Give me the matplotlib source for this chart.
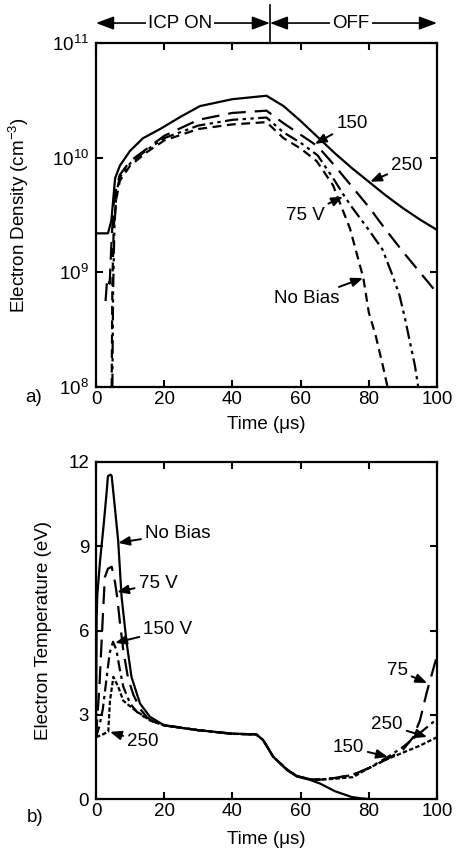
import matplotlib
matplotlib.use('Agg')
import matplotlib.pyplot as plt
import matplotlib.transforms as mtransforms
from matplotlib.ticker import LogLocator, NullLocator, FixedLocator
import numpy as np

plt.rcParams['font.family'] = ['Liberation Sans', 'DejaVu Sans']
plt.rcParams['mathtext.fontset'] = 'custom'
plt.rcParams['mathtext.rm'] = 'Liberation Sans'
plt.rcParams['mathtext.it'] = 'Liberation Sans:italic'
plt.rcParams['font.size'] = 13.5

# ---- a) electron density, log10(n) vs time (us) ----
dens_t_250 = [0, 3.5, 4.5, 5.6, 7, 10, 13.8, 18.8, 25, 30.5, 40, 50, 55, 60, 65, 70,
              75, 80, 85, 90, 95, 100]
dens_log_250 = [9.34, 9.34, 9.45, 9.82, 9.93, 10.06, 10.17, 10.25, 10.36, 10.45, 10.51,
                10.54, 10.45, 10.32, 10.18, 10.04, 9.91, 9.79, 9.67, 9.56, 9.46, 9.37]

dens_t_150 = [2.8, 3.3, 4.0, 4.6, 5.2, 6, 7, 10, 15, 20, 30, 40, 50, 55, 60, 65, 70,
              75, 80, 85, 90, 95, 100]
dens_log_150 = [8.75, 8.95, 8.9, 9.3, 9.6, 9.75, 9.85, 9.97, 10.08, 10.19, 10.33, 10.39,
                10.41, 10.30, 10.20, 10.10, 9.93, 9.75, 9.57, 9.37, 9.18, 9.0, 8.82]

dens_t_75 = [4.8, 5.0, 5.4, 6, 7, 10, 15, 20, 30, 40, 50, 55, 60, 65, 70, 72.5, 75,
             80, 84, 87, 89, 90.6, 92, 93.5, 94.5]
dens_log_75 = [8.0, 8.8, 9.4, 9.7, 9.83, 9.95, 10.07, 10.17, 10.28, 10.33, 10.35, 10.22,
               10.13, 10.02, 9.80, 9.68, 9.57, 9.37, 9.20, 8.97, 8.8, 8.6, 8.4, 8.19, 8.0]

dens_t_nb = [4.6, 4.8, 5.2, 6, 7, 10, 15, 20, 30, 40, 50, 55, 60, 64.7, 69.5, 74.5,
             78.4, 80, 82, 84, 85.5]
dens_log_nb = [8.0, 8.9, 9.4, 9.65, 9.8, 9.93, 10.05, 10.15, 10.25, 10.29, 10.31, 10.17,
               10.08, 9.97, 9.76, 9.38, 8.95, 8.65, 8.45, 8.2, 8.0]

# ---- b) electron temperature (eV) vs time (us) ----
temp_t_nb = [0, 0.2, 0.4, 1.2, 2.2, 3.1, 3.5, 4.3, 4.6, 5.6, 6.5, 7.5, 9, 10.4, 12.9,
             15.8, 20, 30, 40, 47, 49, 52, 56, 58.9, 62.8, 65.7, 70, 75, 78, 80]
temp_nb = [2.2, 6.5, 7.3, 8.5, 9.7, 10.9, 11.5, 11.55, 11.5, 10.3, 9.2, 7.2, 5.55, 4.35,
           3.4, 2.93, 2.62, 2.45, 2.33, 2.3, 2.1, 1.5, 1.03, 0.8, 0.68, 0.55, 0.28, 0.07,
           0.02, 0.0]

temp_t_75 = [0, 1, 2, 2.6, 3.5, 4.6, 5.6, 6.2, 7, 8, 9.4, 11, 13, 15, 17, 20, 30, 40,
             47, 49, 52, 56, 58.9, 62.8, 65, 70, 75, 80, 85, 90, 93, 95, 97, 100]
temp_75 = [2.2, 4.0, 6.5, 7.9, 8.2, 8.27, 7.7, 7.2, 6.3, 5.3, 4.3, 3.7, 3.2, 2.9, 2.75,
           2.63, 2.45, 2.32, 2.3, 2.1, 1.5, 1.05, 0.82, 0.7, 0.7, 0.75, 0.85, 1.1, 1.4,
           1.75, 2.2, 2.8, 3.8, 5.1]

temp_t_150 = [0, 1, 2, 3, 4, 5, 6, 7, 8, 10, 12, 15, 17, 20, 30, 40, 47, 49, 52, 56,
              58.9, 62.8, 65, 70, 75, 80, 85.6, 90, 95, 100]
temp_150 = [2.2, 2.6, 3.2, 4.2, 5.2, 5.6, 5.3, 4.6, 4.0, 3.4, 3.1, 2.85, 2.75, 2.63,
            2.45, 2.32, 2.3, 2.1, 1.5, 1.05, 0.82, 0.7, 0.68, 0.75, 0.85, 1.1, 1.5, 1.85,
            2.35, 2.85]

temp_t_250 = [0, 2, 3.6, 4.1, 5.1, 6.5, 8, 11, 15.8, 20, 30, 40, 47, 49, 52, 56, 58.9,
              62.8, 64.8, 70, 75.4, 80, 85, 90, 95, 100]
temp_250 = [2.2, 2.3, 2.4, 3.5, 4.35, 4.0, 3.5, 3.2, 2.8, 2.62, 2.45, 2.32, 2.3, 2.1,
            1.5, 1.05, 0.82, 0.7, 0.68, 0.72, 0.78, 1.1, 1.4, 1.65, 1.9, 2.2]

x_ticks = [0, 20, 40, 60, 80, 100]
temp_ticks = [0, 3, 6, 9, 12]

FS = 13.5
LW = 1.6
SOLID = '-'
LONG_DASH = (0, (8, 4))
DASH_DOT_DOT = (0, (6, 2, 1.5, 2, 1.5, 2))
SHORT_DASH = (0, (4, 2.5))
DASH_DOT = (0, (5, 2, 1.5, 2))
DOTTED = (0, (2, 1))

ARROW = dict(arrowstyle='-|>,head_length=0.5,head_width=0.2', color='black',
             lw=1.4, shrinkA=1, shrinkB=0)


def style_axes(ax):
    for sp in ax.spines.values():
        sp.set_linewidth(1.6)
    ax.tick_params(direction='in', top=True, right=True, length=5, width=1.5,
                   labelsize=FS)
    ax.set_xlim(0, 100)
    ax.xaxis.set_major_locator(FixedLocator(x_ticks))
    ax.tick_params(axis='x', pad=3)
    ax.tick_params(axis='y', pad=5)


def label(ax, txt, text_xy, tip_xy):
    ax.annotate(txt, xy=tip_xy, xytext=text_xy, ha='center', va='center',
                fontsize=FS, arrowprops=ARROW)


def plot_density(ax):
    ax.plot(dens_t_250, 10 ** np.array(dens_log_250), color='black', lw=LW, ls=SOLID)
    ax.plot(dens_t_150, 10 ** np.array(dens_log_150), color='black', lw=LW, ls=LONG_DASH)
    ax.plot(dens_t_75, 10 ** np.array(dens_log_75), color='black', lw=LW, ls=DASH_DOT_DOT)
    ax.plot(dens_t_nb, 10 ** np.array(dens_log_nb), color='black', lw=LW, ls=SHORT_DASH)
    ax.set_yscale('log')
    ax.set_ylim(1e8, 1e11)
    ax.yaxis.set_major_locator(LogLocator(base=10, numticks=10))
    ax.yaxis.set_minor_locator(NullLocator())
    style_axes(ax)
    ax.set_ylabel('Electron Density (cm$^{-3}$)', fontsize=FS)
    ax.yaxis.set_label_coords(-0.19, 0.5)
    ax.set_xlabel('Time (\u03bcs)', fontsize=FS)
    ax.xaxis.set_label_coords(0.5, -0.085)

    label(ax, '150', (75.1, 10 ** 10.30), (64.2, 10 ** 10.12))
    label(ax, '250', (91.2, 10 ** 9.93), (80.4, 10 ** 9.79))
    label(ax, '75 V', (61.3, 10 ** 9.50), (72.4, 10 ** 9.66))
    label(ax, 'No Bias', (61.9, 10 ** 8.77), (78.3, 10 ** 8.95))

    # ICP ON / OFF header above the panel
    trans = mtransforms.blended_transform_factory(ax.transData, ax.transAxes)
    ax.plot([51, 51], [1.0, 1.11], color='black', lw=1.2, transform=trans, clip_on=False)
    hdr = dict(arrowstyle='<|-|>,head_length=0.8,head_width=0.3', color='black',
               lw=1.2, shrinkA=0, shrinkB=0)
    ax.annotate('', xy=(0, 1.058), xytext=(51, 1.058), xycoords=trans,
                textcoords=trans, arrowprops=hdr, annotation_clip=False)
    ax.annotate('', xy=(51, 1.058), xytext=(100, 1.058), xycoords=trans,
                textcoords=trans, arrowprops=hdr, annotation_clip=False)
    box = dict(facecolor='white', edgecolor='none', pad=1.5)
    ax.text(24.6, 1.058, 'ICP ON', transform=trans, ha='center', va='center',
            fontsize=FS, bbox=box, clip_on=False)
    ax.text(74.8, 1.058, 'OFF', transform=trans, ha='center', va='center',
            fontsize=FS, bbox=box, clip_on=False)


def plot_temperature(ax):
    ax.plot(temp_t_nb, temp_nb, color='black', lw=LW, ls=SOLID)
    ax.plot(temp_t_75, temp_75, color='black', lw=LW, ls=LONG_DASH)
    ax.plot(temp_t_150, temp_150, color='black', lw=LW, ls=DASH_DOT)
    ax.plot(temp_t_250, temp_250, color='black', lw=LW, ls=DOTTED)
    ax.set_ylim(0, 12)
    ax.yaxis.set_major_locator(FixedLocator(temp_ticks))
    style_axes(ax)
    ax.set_ylabel('Electron Temperature (eV)', fontsize=FS)
    ax.yaxis.set_label_coords(-0.13, 0.5)
    ax.set_xlabel('Time (\u03bcs)', fontsize=FS)
    ax.xaxis.set_label_coords(0.5, -0.095)

    label(ax, 'No Bias', (24.0, 9.47), (6.5, 9.12))
    label(ax, '75 V', (18.2, 7.69), (6.2, 7.37))
    label(ax, '150 V', (21.1, 6.02), (5.6, 5.56))
    label(ax, '250', (13.8, 2.03), (4.1, 2.39))
    label(ax, '75', (88.3, 4.59), (97.1, 4.13))
    label(ax, '250', (85.3, 2.64), (97.1, 2.21))
    label(ax, '150', (73.9, 1.85), (85.6, 1.5))


def main():
    fig = plt.figure(figsize=(4.58, 8.5), dpi=100)
    ax_a = fig.add_axes([96 / 458, 1 - 387 / 850, 341 / 458, 344 / 850])
    ax_b = fig.add_axes([96 / 458, 1 - 799 / 850, 341 / 458, 337 / 850])
    plot_density(ax_a)
    plot_temperature(ax_b)
    fig.text(34 / 458, 1 - 397 / 850, 'a)', ha='center', va='center', fontsize=FS)
    fig.text(35 / 458, 1 - 818 / 850, 'b)', ha='center', va='center', fontsize=FS)
    fig.savefig('out.png', dpi=100)
    plt.close(fig)


if __name__ == "__main__":
    main()
